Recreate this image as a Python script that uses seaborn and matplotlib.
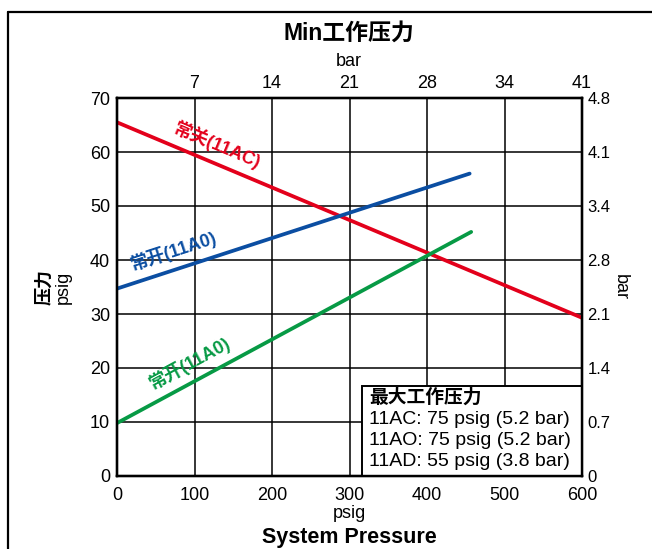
import matplotlib
matplotlib.use("Agg")
import matplotlib.pyplot as plt
import seaborn as sns
import pandas as pd
from matplotlib.lines import Line2D
from matplotlib.patches import Rectangle

# ---- data ----
psig_ticks = [0, 100, 200, 300, 400, 500, 600]
bar_top_labels = ["7", "14", "21", "28", "34", "41"]
y_ticks = [0, 10, 20, 30, 40, 50, 60, 70]
bar_right_labels = ["0", "0.7", "1.4", "2.1", "2.8", "3.4", "4.1", "4.8"]

nc_x = [0, 600]          # 常关 (11AC)
nc_y = [65.5, 29.3]
no_x = [0, 455]          # 常开 (11A0) blue
no_y = [34.7, 56.0]
no2_x = [0, 457]         # 常开 (11A0) green
no2_y = [9.8, 45.2]

legend_title = "最大工作压力"
legend_lines = ["11AC: 75 psig (5.2 bar)",
                "11AO: 75 psig (5.2 bar)",
                "11AD: 55 psig (3.8 bar)"]

RED = "#e3001b"
BLUE = "#0b4ea2"
GREEN = "#079a45"

sns.set_style("white")
plt.rcParams['font.family'] = ['Liberation Sans', 'Noto Sans CJK SC', 'DejaVu Sans']
plt.rcParams['text.color'] = 'black'
plt.rcParams['axes.labelcolor'] = 'black'
plt.rcParams['xtick.color'] = 'black'
plt.rcParams['ytick.color'] = 'black'

W, H = 652, 549
fig = plt.figure(figsize=(W / 100, H / 100), dpi=100)
ax = fig.add_axes([117 / W, 1 - 476 / H, (582 - 117) / W, (476 - 98) / H])

for xs, ys, c in [(nc_x, nc_y, RED), (no_x, no_y, BLUE), (no2_x, no2_y, GREEN)]:
    df = pd.DataFrame({"x": xs, "y": ys})
    sns.lineplot(data=df, x="x", y="y", ax=ax, color=c, linewidth=2.7, zorder=5)

ax.set_xlim(0, 600)
ax.set_ylim(0, 70)
ax.set_xticks(psig_ticks)
ax.set_yticks(y_ticks)
ax.set_xlabel("")
ax.set_ylabel("")
ax.grid(True, color="black", linewidth=1.1)
ax.tick_params(axis="x", length=0, labelsize=13, pad=8, colors="black")
ax.tick_params(axis="y", length=0, labelsize=13, pad=5, colors="black")
for s in ax.spines.values():
    s.set_color("black")
    s.set_linewidth(1.6)

# top axis (bar)
axt = ax.twiny()
axt.set_xlim(0, 600)
axt.set_xticks(psig_ticks[1:])
axt.set_xticklabels(bar_top_labels)
axt.tick_params(axis="x", length=0, labelsize=13, pad=4)
# right axis (bar)
axr = ax.twinx()
axr.set_ylim(0, 70)
axr.set_yticks(y_ticks)
axr.set_yticklabels(bar_right_labels)
axr.tick_params(axis="y", length=0, labelsize=12, pad=4)
for a in (axt, axr):
    for s in a.spines.values():
        s.set_color("black")
        s.set_linewidth(1.6)

# line labels (sitting just above each line)
lab_kw = dict(fontsize=13, fontweight="bold", ha="center", va="bottom",
              rotation_mode="anchor", zorder=6)
ax.text(124, 59.6, "常关(11AC)", color=RED, rotation=-23, **lab_kw)
ax.text(77, 39.9, "常开(11A0)", color=BLUE, rotation=18, **lab_kw)
ax.text(100, 19.4, "常开(11A0)", color=GREEN, rotation=28.5, **lab_kw)

# info box
bx0 = (362 - 117) / (582 - 117)
bh = (476 - 386) / (476 - 98)
ax.add_patch(Rectangle((bx0, 0), 1 - bx0, bh, transform=ax.transAxes,
                       facecolor="white", edgecolor="black", linewidth=1.4, zorder=7))
tx = (369 - 117) / (582 - 117)
ax.text(tx, (476 - 398) / 378, legend_title, transform=ax.transAxes, fontsize=13.5,
        fontweight="bold", va="center", ha="left", zorder=8)
for i, t in enumerate(legend_lines):
    ax.text(tx, (476 - (420 + 20.5 * i)) / 378, t, transform=ax.transAxes, fontsize=14,
            va="center", ha="left", zorder=8)

# titles / labels
fig.text(349 / W, 1 - 33 / H, "Min工作压力", fontsize=16.5, fontweight="bold",
         ha="center", va="center")
fig.text(349 / W, 1 - 62 / H, "bar", fontsize=13, ha="center", va="center")
fig.text(45 / W, 1 - 287 / H, "压力", fontsize=13, fontweight="bold", rotation=90,
         ha="center", va="center")
fig.text(63 / W, 1 - 287 / H, "psig", fontsize=13, rotation=90, ha="center", va="center")
fig.text(620 / W, 1 - 287 / H, "bar", fontsize=13, rotation=-90, ha="center", va="center")
fig.text(349 / W, 1 - 513 / H, "psig", fontsize=13, ha="center", va="center")
fig.text(349 / W, 1 - 537 / H, "System Pressure", fontsize=15.5, fontweight="bold",
         ha="center", va="center")

# outer frame (partially cropped)
fig.add_artist(Line2D([8 / W, 8 / W], [0, 1 - 12 / H], color="black", linewidth=1.6,
                      transform=fig.transFigure))
fig.add_artist(Line2D([8 / W, 1], [1 - 12 / H, 1 - 12 / H], color="black", linewidth=1.6,
                      transform=fig.transFigure))

fig.savefig("out.png", dpi=100)
